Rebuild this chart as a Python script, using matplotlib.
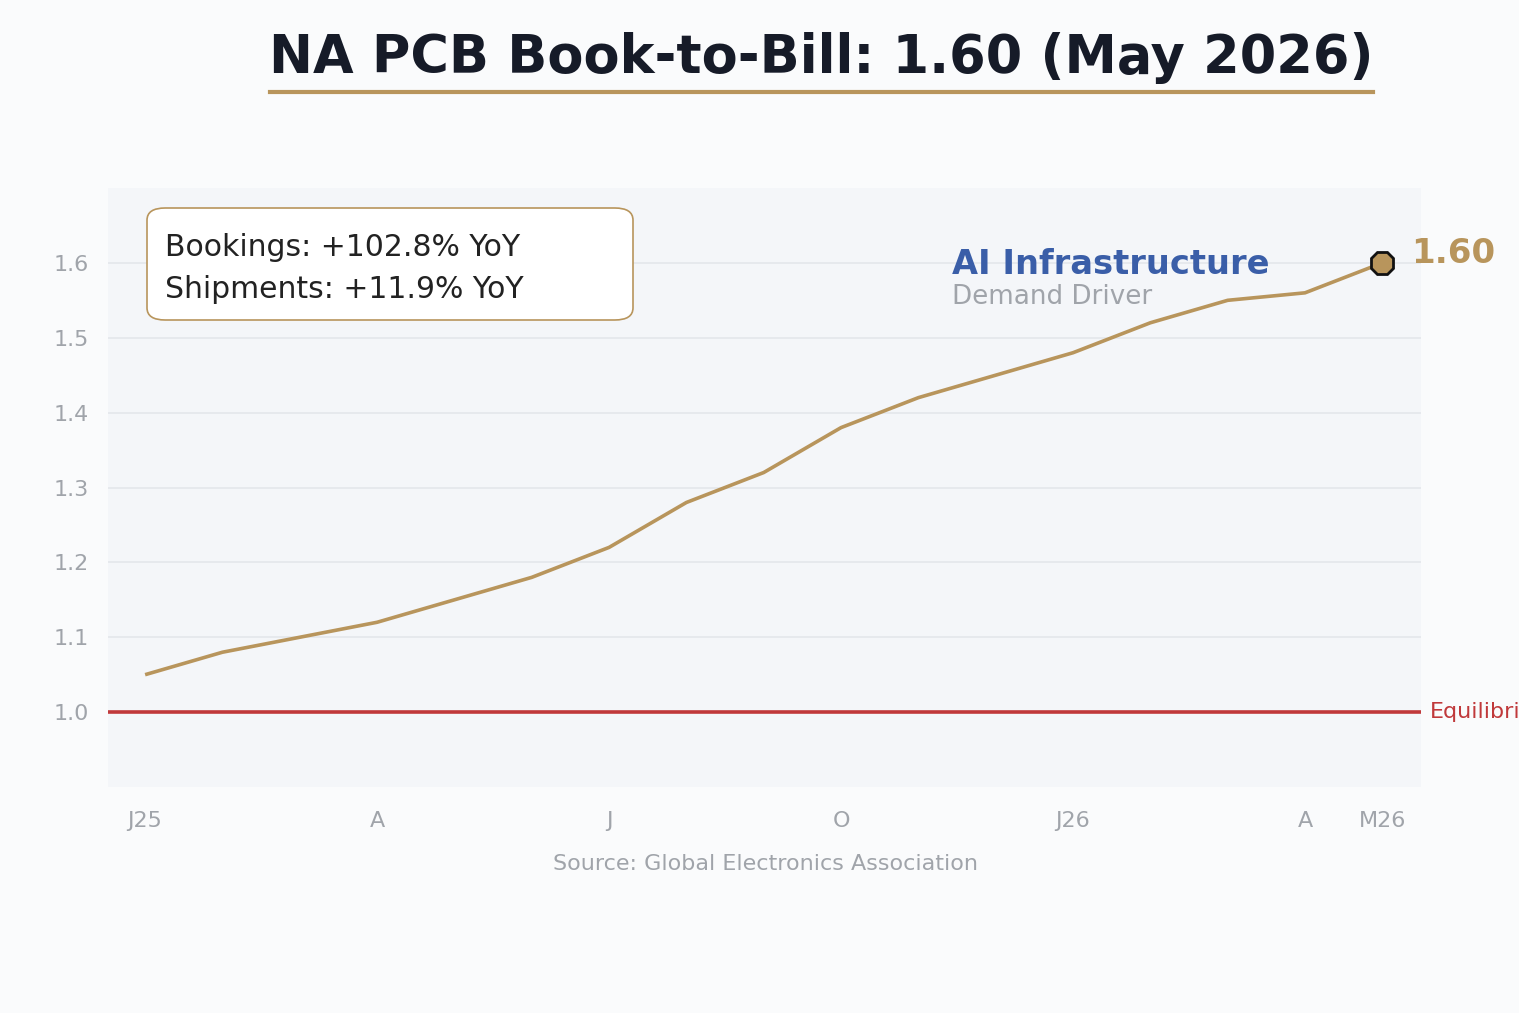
import matplotlib
matplotlib.use("Agg")
import matplotlib.pyplot as plt
from matplotlib.patches import FancyBboxPatch
from matplotlib.lines import Line2D

months = ["J25", "F", "M", "A", "M", "J", "J", "A", "S", "O", "N", "D",
          "J26", "F", "M", "A", "M26"]
book_to_bill = [1.05, 1.08, 1.10, 1.12, 1.15, 1.18, 1.22, 1.28, 1.32, 1.38,
                1.42, 1.45, 1.48, 1.52, 1.55, 1.56, 1.60]
tick_idx = [0, 3, 6, 9, 12, 15, 16]
tick_labels = ["J25", "A", "J", "O", "J26", "A", "M26"]
y_ticks = [1.0, 1.1, 1.2, 1.3, 1.4, 1.5, 1.6]

GOLD = "#b8955c"
RED = "#c0393b"
BLUE = "#3a5ea8"
GREY = "#a0a4aa"
DARK = "#161b28"

plt.rcParams['font.family'] = ['DejaVu Sans']
fig = plt.figure(figsize=(15.19, 10.13), dpi=100, facecolor="#fafbfc")
ax = fig.add_axes([108/1519, 1-787/1013, (1421-108)/1519, (787-188)/1013])
ax.set_facecolor("#f4f6f9")

x = list(range(len(months)))
ax.set_xlim(-0.48, 16.5)
ax.set_ylim(0.9, 1.7)

for yt in y_ticks[1:]:
    ax.axhline(yt, color="#e4e7eb", lw=1.2, zorder=1)
ax.axhline(1.0, color=RED, lw=2.6, zorder=2)

ax.plot(x, book_to_bill, color=GOLD, lw=2.6, zorder=3, solid_capstyle='butt')
ax.plot([x[-1]], [book_to_bill[-1]], marker='8', ms=17.5, mfc=GOLD, mec="#111111",
        mew=2, zorder=4, ls='none')

for s in ax.spines.values():
    s.set_visible(False)
ax.set_xticks([x[i] for i in tick_idx])
ax.set_xticklabels(tick_labels)
ax.set_yticks(y_ticks)
ax.set_yticklabels([f"{v:.1f}" for v in y_ticks])
ax.tick_params(axis='both', length=0, colors=GREY, labelsize=16)
ax.tick_params(axis='y', pad=14)
ax.tick_params(axis='x', pad=17)

# last value label
ax.annotate(f"{book_to_bill[-1]:.2f}", xy=(x[-1], book_to_bill[-1]), xytext=(21, 6.5),
            textcoords='offset points', color=GOLD, fontsize=24.5, fontweight='bold',
            va='center', ha='left', annotation_clip=False)

# equilibrium label
ax.annotate("Equilibrium", xy=(1.0, 1.0), xycoords=('axes fraction', 'data'),
            xytext=(6.5, 0), textcoords='offset points', color=RED, fontsize=16,
            va='center', ha='left', annotation_clip=False)

# AI infrastructure text
fig.text(952/1519, 1-264/1013, "AI Infrastructure", color=BLUE, fontsize=24.2,
         fontweight='bold', va='center', ha='left')
fig.text(952/1519, 1-297/1013, "Demand Driver", color=GREY, fontsize=18.8,
         va='center', ha='left')

# stats box
box = FancyBboxPatch((147/1519, 1-320/1013), (633-147)/1519, (320-208)/1013,
                     boxstyle="round,pad=0,rounding_size=0.012",
                     transform=fig.transFigure, facecolor="white",
                     edgecolor=GOLD, lw=1.2, zorder=5)
fig.patches.append(box)
fig.text(165/1519, 1-247/1013, "Bookings: +102.8% YoY", color="#222222",
         fontsize=21.5, va='center', ha='left', zorder=6)
fig.text(165/1519, 1-289/1013, "Shipments: +11.9% YoY", color="#222222",
         fontsize=21.5, va='center', ha='left', zorder=6)

# title with underline
fig.text(821/1519, 1-58/1013, "NA PCB Book-to-Bill: 1.60 (May 2026)", color=DARK,
         fontsize=37.8, fontweight='bold', va='center', ha='center')
fig.add_artist(Line2D([270/1519, 1373/1519], [1-92/1013, 1-92/1013],
                      transform=fig.transFigure, color=GOLD, lw=3))

# source
fig.text(765/1519, 1-864/1013, "Source: Global Electronics Association", color=GREY,
         fontsize=16, va='center', ha='center')

fig.savefig("out.png", dpi=100, facecolor=fig.get_facecolor())
